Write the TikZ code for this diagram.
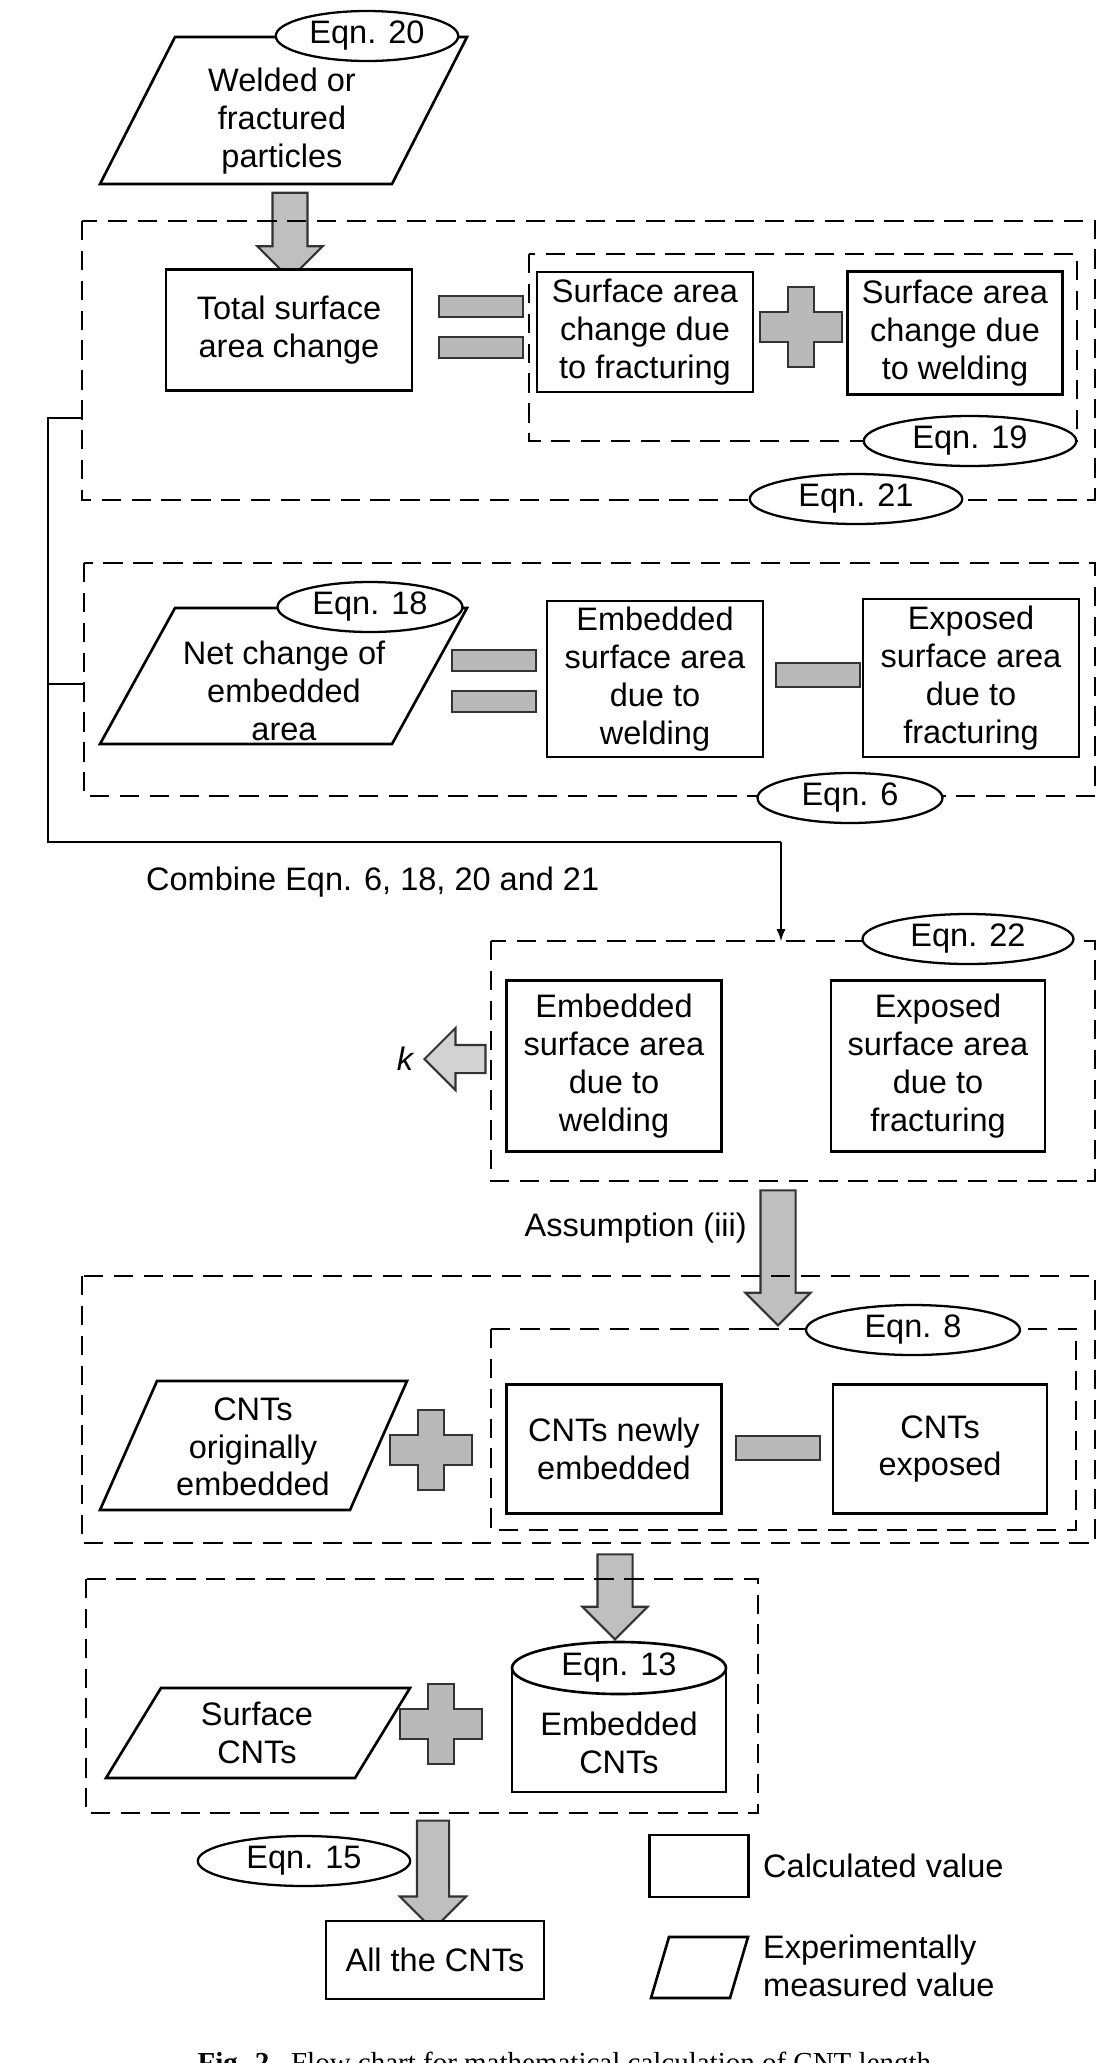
\documentclass[tikz,border=0pt]{standalone}
\usepackage{fontspec}
\setmainfont{Liberation Sans}
\newfontfamily\capfont{Liberation Serif}
\usetikzlibrary{shapes.geometric,shapes.arrows,positioning}

\tikzset{
  calc_box/.style={draw,line width=1.5pt,fill=white,align=center,font=\fontsize{18.5}{21.5}\selectfont},
  eqn_node/.style={ellipse,draw,line width=1.3pt,fill=white,minimum width=4.25cm,minimum height=1cm,inner sep=0pt,font=\fontsize{18.5}{21.5}\selectfont},
  dash_box/.style={draw,line width=1.6pt,dash pattern=on 11pt off 6pt},
  txt/.style={align=center,font=\fontsize{18.5}{21.5}\selectfont},
  down_arrow/.style={single arrow,draw=black!80,line width=1.2pt,fill=gray!50,rotate=-90,inner sep=0.33cm,single arrow head extend=0.3cm,minimum width=1.28cm},
  left_arrow/.style={single arrow,draw=black!80,line width=1.2pt,fill=gray!35,rotate=180,inner sep=0.26cm,single arrow head extend=0.34cm,minimum width=1.2cm},
  op_fill/.style={draw=black!80,fill=gray!55,line width=1.3pt},
}

% plus sign centred at #1,#2
\newcommand{\plusop}[2]{\filldraw[op_fill] (#1-13,#2-40) -- (#1+13,#2-40) -- (#1+13,#2-15) -- (#1+41,#2-15) -- (#1+41,#2+15) -- (#1+13,#2+15) -- (#1+13,#2+40) -- (#1-13,#2+40) -- (#1-13,#2+15) -- (#1-41,#2+15) -- (#1-41,#2-15) -- (#1-13,#2-15) -- cycle;}
\newcommand{\minusop}[2]{\filldraw[op_fill] (#1-42,#2-12) rectangle (#1+42,#2+12);}
\newcommand{\equalop}[2]{\filldraw[op_fill] (#1-42,#2-31) rectangle (#1+42,#2-10);
  \filldraw[op_fill] (#1-42,#2+10) rectangle (#1+42,#2+31);}
% parallelogram: x1, x2, y top, y bottom, slant
\newcommand{\pgram}[5]{\filldraw[line width=1.5pt,fill=white] (#1,#4) -- (#1+#5,#3) -- (#2,#3) -- (#2-#5,#4) -- cycle;}

\begin{document}
\begin{tikzpicture}[x=0.02cm,y=-0.02cm]
\useasboundingbox (0,0) rectangle (1113,2063);

% top input
\pgram{100}{467}{37}{184}{75}
\node[txt] (welded) at (282,121) {Welded or\\fractured\\particles};
\node[eqn_node,minimum width=3.65cm] (e20) at (367,36) {Eqn. 20};
\node[down_arrow,minimum height=1.72cm] (a1) at (290,227) {};

% block 1
\draw[dash_box] (82,221) rectangle (1095,500);
\draw[dash_box] (529,254) rectangle (1077,441);
\node[calc_box,minimum width=4.92cm,minimum height=2.42cm] (total) at (289,330) {Total surface\\area change};
\equalop{481}{327}
\node[calc_box,minimum width=4.32cm,minimum height=2.4cm] (sfrac) at (645,332) {Surface area\\change due\\to fracturing};
\plusop{801}{327}
\node[calc_box,minimum width=4.3cm,minimum height=2.46cm] (sweld) at (955,333) {Surface area\\change due\\to welding};
\node[eqn_node] (e19) at (970,441) {Eqn. 19};
\node[eqn_node] (e21) at (856,499) {Eqn. 21};

% block 2
\draw[dash_box] (84,563) rectangle (1095,796);
\pgram{100}{467}{608}{744}{75}
\node[txt] (netchg) at (284,691) {Net change of\\embedded\\area};
\node[eqn_node,minimum width=3.7cm] (e18) at (370,607) {Eqn. 18};
\equalop{494}{681}
\node[calc_box,minimum width=4.32cm,minimum height=3.12cm] (emb1) at (655,679) {Embedded\\surface area\\due to\\welding};
\minusop{818}{675}
\node[calc_box,minimum width=4.32cm,minimum height=3.16cm] (exp1) at (971,678) {Exposed\\surface area\\due to\\fracturing};
\node[eqn_node,minimum width=3.7cm] (e6) at (850,798) {Eqn. 6};

% combine connector
\coordinate (t1) at (82,418);
\coordinate (t2) at (84,684);
\coordinate (b1) at (48,418);
\coordinate (b2) at (48,684);
\coordinate (b3) at (48,842);
\coordinate (b4) at (781,842);
\draw[line width=1.3pt] (t1) -- (b1) -- (b3) -- (b4);
\draw[line width=1.3pt] (t2) -- (b2);
\node[txt,anchor=west] (combine) at (140,882) {Combine Eqn. 6, 18, 20 and 21};

% block 3
\draw[dash_box] (491,941) rectangle (1095,1181);
\coordinate (top3) at (781,941);
\draw[line width=1.3pt,-latex] (b4) -- (top3);
\node[eqn_node,minimum width=4.22cm] (e22) at (968,939) {Eqn. 22};
\node[calc_box,minimum width=4.3cm,minimum height=3.42cm] (emb2) at (614,1066) {Embedded\\surface area\\due to\\welding};
\node[calc_box,minimum width=4.28cm,minimum height=3.42cm] (exp2) at (938,1066) {Exposed\\surface area\\due to\\fracturing};
\node[left_arrow,minimum height=1.22cm] (ak) at (462,1059) {};
\node[txt,font=\fontsize{18.5}{21.5}\selectfont\itshape] (k) at (405,1059) {k};

\node[down_arrow,minimum height=2.7cm] (a2) at (778,1249) {};
\node[txt,anchor=east] (assume) at (753,1228) {Assumption (iii)};

% block 4
\draw[dash_box] (82,1276) rectangle (1095,1543);
\draw[dash_box] (491,1329) rectangle (1076,1530);
\node[eqn_node,minimum width=4.28cm] (e8) at (913,1330) {Eqn. 8};
\pgram{100}{407}{1381}{1510}{57}
\node[txt] (cntorig) at (253,1447) {CNTs\\originally\\embedded};
\plusop{431}{1450}
\node[calc_box,minimum width=4.3cm,minimum height=2.58cm] (cntnew) at (614,1449) {CNTs newly\\embedded};
\minusop{778}{1448}
\node[calc_box,minimum width=4.28cm,minimum height=2.58cm] (cntexp) at (940,1449) {CNTs\\exposed};

\node[down_arrow,minimum height=1.7cm] (a3) at (615,1588) {};

% block 5
\draw[dash_box] (86,1579) rectangle (758,1813);
\pgram{106}{410}{1688}{1778}{55}
\node[txt] (surf) at (257,1733) {Surface\\CNTs};
\plusop{441}{1724}
\filldraw[line width=1.5pt,fill=white] (512,1668) -- (512,1792) -- (726,1792) -- (726,1668);
\draw[line width=1.5pt,fill=white] (619,1668) ellipse[x radius=107,y radius=26];
\node[txt] (e13) at (619,1668) {Eqn. 13};
\node[txt] (embcnt) at (619,1743) {Embedded\\CNTs};

\node[down_arrow,minimum height=2.18cm,inner sep=0.3cm,single arrow head extend=0.34cm] (a4) at (433,1867) {};
\node[eqn_node] (e15) at (304,1861) {Eqn. 15};
\node[calc_box,minimum width=4.36cm,minimum height=1.56cm] (all) at (435,1960) {All the CNTs};

% legend
\node[calc_box,minimum width=1.98cm,minimum height=1.24cm] (lg1) at (699,1866) {};
\node[txt,anchor=west] (lg1t) at (757,1866) {Calculated value};
\pgram{651}{748}{1937}{1998}{18}
\node[txt,anchor=west,align=left] (lg2t) at (757,1966) {Experimentally\\measured value};

% caption
\node[font=\capfont\fontsize{16.5}{20}\selectfont,anchor=base] (cap) at (568,2072) {\textbf{Fig. 2.}\enspace Flow chart for mathematical calculation of CNT length.};
\end{tikzpicture}
\end{document}
